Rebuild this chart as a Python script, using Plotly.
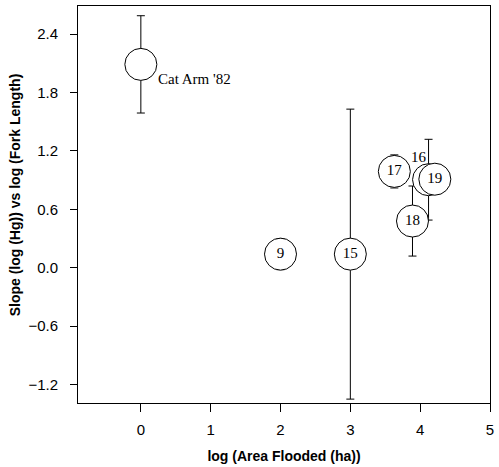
import plotly.graph_objects as go

# Data
labels = ["Cat Arm '82", "9", "15", "17", "18", "16", "19"]
log_area = [0.0, 2.0, 3.0, 3.63, 3.89, 4.12, 4.21]
slope = [2.09, 0.14, 0.14, 0.99, 0.48, 0.905, 0.91]
slope_err = [0.50, 0.16, 1.49, 0.17, 0.36, 0.415, 0.0]

x_ticks = [0, 1, 2, 3, 4, 5]
y_ticks = [-1.2, -0.6, 0.0, 0.6, 1.2, 1.8, 2.4]

x_title = "log (Area Flooded (ha))"
y_title = "Slope (log (Hg)) vs log (Fork Length)"

inside_text = ["" if l in ("Cat Arm '82", "16") else l for l in labels]

fig = go.Figure()
fig.add_trace(go.Scatter(
    x=log_area, y=slope, mode="markers+text",
    text=inside_text, textposition="middle center",
    textfont=dict(family="Liberation Serif", size=15, color="black"),
    marker=dict(size=32, color="white", line=dict(color="black", width=1)),
    error_y=dict(type="data", array=slope_err, visible=True, color="black",
                 thickness=1, width=4),
    showlegend=False, cliponaxis=False,
))

annotations = []
for l, xv, yv in zip(labels, log_area, slope):
    if l == "Cat Arm '82":
        annotations.append(dict(x=xv, y=yv, xref="x", yref="y", text=l,
                                showarrow=False, xanchor="left", yanchor="middle",
                                xshift=15, yshift=-15,
                                font=dict(family="Liberation Serif", size=15, color="black")))
    elif l == "16":
        annotations.append(dict(x=xv, y=yv, xref="x", yref="y", text=l,
                                showarrow=False, xanchor="center", yanchor="middle",
                                xshift=-10, yshift=23,
                                font=dict(family="Liberation Serif", size=15, color="black")))

# y-axis title (slightly above the plot centre, as in the reference)
annotations.append(dict(x=-0.152, y=0.524, xref="paper", yref="paper",
                        text="<b>" + y_title + "</b>", textangle=-90,
                        showarrow=False, xanchor="center", yanchor="middle",
                        font=dict(family="Liberation Sans", size=14, color="black")))

fig.update_layout(
    width=499, height=467,
    margin=dict(l=78, r=7, t=5, b=63),
    paper_bgcolor="white", plot_bgcolor="white",
    annotations=annotations,
    font=dict(family="Liberation Sans", size=15, color="black"),
)
fig.update_xaxes(
    range=[-0.9, 5.0], tickvals=x_ticks, ticks="outside", ticklen=8,
    tickcolor="black", showgrid=False, zeroline=False,
    showline=True, linecolor="black", linewidth=1, mirror=True,
    ticklabelstandoff=5,
    title=dict(text="<b>" + x_title + "</b>", standoff=14,
               font=dict(family="Liberation Sans", size=14)),
)
fig.update_yaxes(
    range=[-1.39, 2.69], tickvals=y_ticks, tickformat=".1f", ticks="outside",
    ticklen=7, tickcolor="black", showgrid=False, zeroline=False,
    showline=True, linecolor="black", linewidth=1, mirror=True,
    ticklabelstandoff=9,
)

fig.write_html("out.html")
